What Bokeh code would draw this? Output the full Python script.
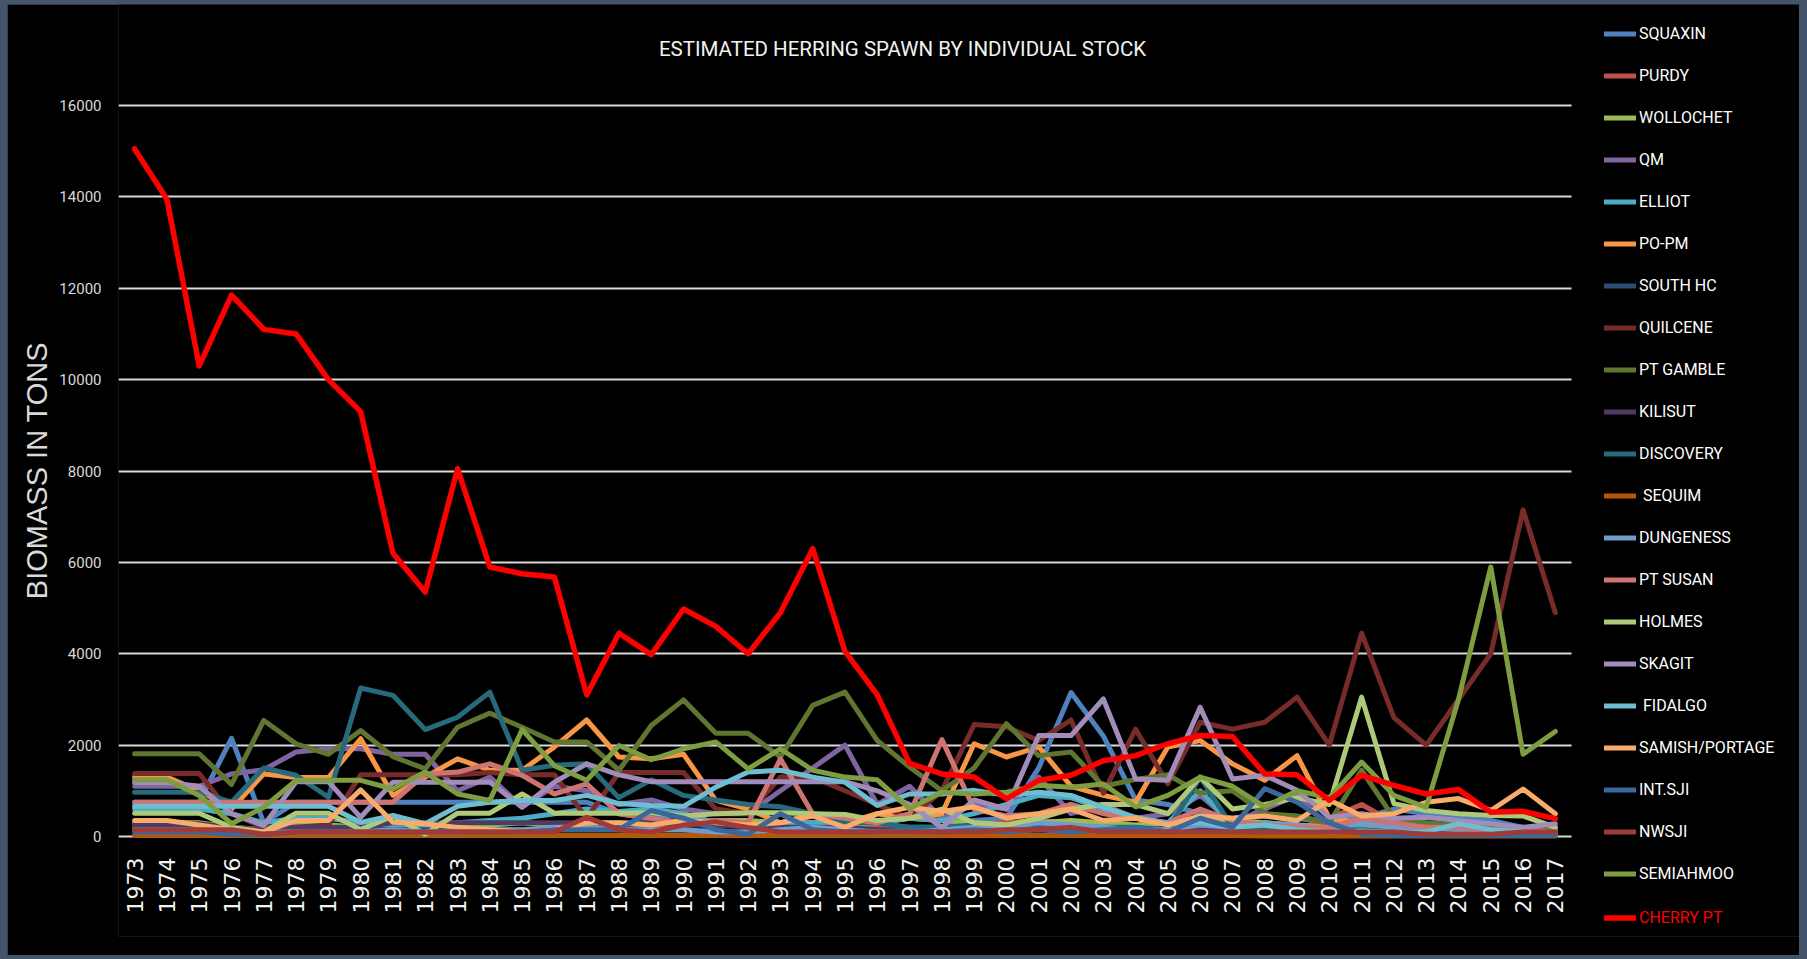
import math
from bokeh.plotting import figure
from bokeh.models import Range1d, FixedTicker, Legend, LegendItem, Label, ColumnDataSource
from bokeh.core.properties import value
from bokeh.embed import file_html
from bokeh.resources import INLINE

years = ["1973", "1974", "1975", "1976", "1977", "1978", "1979", "1980", "1981",
         "1982", "1983", "1984", "1985", "1986", "1987", "1988", "1989", "1990",
         "1991", "1992", "1993", "1994", "1995", "1996", "1997", "1998", "1999",
         "2000", "2001", "2002", "2003", "2004", "2005", "2006", "2007", "2008",
         "2009", "2010", "2011", "2012", "2013", "2014", "2015", "2016", "2017"]

y_ticks = [0, 2000, 4000, 6000, 8000, 10000, 12000, 14000, 16000]

squaxin = [750, 750, 750, 2150, 300, 750, 750, 750, 750, 750,
           750, 750, 750, 750, 750, 500, 400, 500, 300, 200,
           200, 200, 300, 250, 200, 200, 350, 400, 1500, 3150,
           2200, 800, 700, 500, 400, 500, 400, 300, 400, 600,
           500, 400, 350, 200, 150]
purdy = [200, 200, 200, 150, 100, 150, 150, 200, 250, 300,
         300, 300, 300, 250, 300, 250, 200, 250, 300, 250,
         250, 300, 200, 200, 150, 200, 250, 300, 350, 300,
         250, 200, 300, 250, 200, 200, 150, 400, 700, 300,
         250, 200, 150, 100, 100]
wollochet = [300, 300, 300, 200, 150, 250, 250, 200, 300, 200,
             200, 250, 300, 250, 250, 300, 300, 250, 350, 350,
             300, 300, 250, 300, 400, 350, 300, 250, 300, 350,
             300, 250, 300, 400, 350, 300, 250, 200, 250, 200,
             150, 150, 100, 100, 80]
qm = [1100, 1100, 1100, 1370, 1460, 1850, 1920, 1920, 1800, 1800,
      1000, 1300, 650, 1100, 1000, 700, 800, 600, 500, 500,
      1000, 1500, 2000, 700, 1100, 400, 700, 600, 1300, 500,
      700, 400, 500, 900, 300, 600, 900, 200, 200, 150,
      100, 100, 100, 50, 50]
elliot = [600, 600, 600, 500, 300, 400, 400, 300, 250, 200,
          300, 350, 400, 500, 600, 550, 600, 500, 300, 200,
          250, 300, 350, 300, 400, 350, 500, 700, 900, 850,
          600, 400, 300, 1000, 250, 250, 200, 150, 200, 150,
          150, 300, 200, 150, 100]
po_pm = [1300, 1300, 1000, 600, 1370, 1290, 1290, 2140, 900, 1300,
         1700, 1450, 1450, 1960, 2550, 1740, 1700, 1800, 790, 600,
         300, 500, 300, 500, 400, 500, 2030, 1740, 1960, 1100,
         900, 750, 1960, 2100, 1590, 1230, 1770, 400, 300, 200,
         150, 100, 100, 50, 50]
south_hc = [250, 250, 250, 100, 100, 150, 150, 150, 150, 150,
            150, 150, 150, 150, 200, 200, 150, 150, 100, 100,
            150, 100, 100, 150, 100, 100, 150, 150, 200, 150,
            150, 150, 100, 200, 150, 150, 100, 100, 100, 100,
            50, 50, 50, 50, 50]
quilcene = [1380, 1380, 1380, 500, 200, 200, 250, 1350, 1350, 1350,
            1350, 1400, 1350, 1350, 400, 1400, 1400, 1400, 600, 500,
            1300, 1300, 1000, 700, 400, 1000, 2450, 2400, 2100, 2550,
            950, 2350, 1150, 2500, 2350, 2500, 3050, 2000, 4450, 2600,
            2000, 3000, 4000, 7150, 4900]
pt_gamble = [1810, 1810, 1810, 1140, 2540, 2030, 1800, 2320, 1750, 1480,
             2390, 2700, 2390, 2070, 2070, 1450, 2430, 2990, 2260, 2260,
             1740, 2870, 3160, 2100, 1520, 1000, 1500, 2470, 1770, 1850,
             1100, 1250, 1350, 950, 1000, 500, 450, 300, 1450, 400,
             300, 250, 250, 200, 150]
kilisut = [280, 280, 280, 200, 150, 200, 200, 200, 300, 300,
           300, 300, 300, 300, 300, 300, 300, 250, 250, 200,
           200, 200, 200, 150, 150, 200, 200, 200, 200, 200,
           150, 150, 150, 200, 150, 150, 100, 100, 100, 100,
           100, 100, 100, 100, 100]
discovery = [970, 970, 970, 750, 1500, 1340, 860, 3250, 3090, 2340,
             2610, 3160, 1450, 1560, 1590, 850, 1240, 900, 800, 700,
             650, 500, 300, 300, 200, 200, 250, 200, 250, 200,
             200, 200, 150, 1300, 200, 200, 150, 150, 150, 100,
             100, 100, 100, 100, 100]
sequim = [30, 30, 30, 30, 30, 30, 30, 30, 30, 30,
          30, 30, 30, 30, 30, 30, 30, 30, 30, 30,
          30, 30, 30, 30, 30, 20, 20, 20, 20, 20,
          20, 20, 20, 20, 20, 10, 10, 10, 10, 10,
          10, 10, 10, 10, 10]
dungeness = [150, 150, 150, 100, 100, 100, 100, 100, 150, 100,
             100, 150, 150, 200, 200, 150, 150, 150, 100, 100,
             150, 200, 150, 100, 100, 150, 200, 200, 300, 250,
             200, 150, 150, 250, 200, 300, 250, 150, 300, 200,
             200, 150, 100, 100, 50]
pt_susan = [750, 750, 750, 750, 750, 750, 750, 750, 750, 1370,
            1410, 1590, 1340, 930, 1150, 500, 400, 300, 350, 300,
            1700, 500, 400, 300, 500, 2120, 600, 450, 500, 700,
            500, 400, 300, 600, 350, 250, 200, 200, 400, 300,
            200, 200, 150, 150, 100]
holmes = [510, 510, 510, 200, 100, 510, 510, 150, 450, 50,
          510, 510, 930, 510, 510, 510, 520, 450, 500, 520,
          520, 500, 480, 350, 400, 600, 300, 250, 400, 600,
          700, 700, 500, 1300, 600, 700, 850, 700, 3050, 720,
          570, 500, 460, 450, 200]
skagit = [1180, 1180, 1100, 500, 240, 1200, 1200, 420, 1190, 1190,
          1190, 1190, 640, 1190, 1590, 1350, 1200, 1200, 1200, 1200,
          1200, 1200, 1200, 1000, 700, 200, 800, 600, 2210, 2210,
          3010, 1260, 1230, 2830, 1260, 1340, 1010, 420, 500, 400,
          420, 350, 280, 200, 280]
fidalgo = [660, 660, 660, 660, 660, 660, 660, 310, 460, 280,
           660, 750, 790, 790, 900, 720, 680, 660, 1080, 1410,
           1450, 1300, 1190, 680, 930, 930, 1010, 900, 970, 900,
           640, 420, 280, 310, 200, 250, 150, 100, 120, 100,
           100, 280, 150, 100, 50]
samish_portage = [350, 350, 250, 150, 100, 350, 350, 1020, 310, 280,
                  200, 150, 100, 150, 300, 300, 250, 350, 300, 250,
                  300, 450, 200, 500, 640, 550, 650, 400, 500, 600,
                  350, 400, 250, 450, 400, 450, 350, 800, 450, 500,
                  750, 830, 570, 1040, 500]
int_sji = [100, 100, 100, 50, 50, 100, 100, 100, 100, 100,
           100, 100, 100, 150, 150, 150, 570, 400, 150, 50,
           500, 150, 100, 100, 150, 100, 150, 100, 150, 100,
           150, 200, 100, 400, 200, 1050, 750, 300, 50, 20,
           20, 20, 20, 20, 20]
nwsji = [150, 150, 150, 150, 50, 100, 100, 100, 100, 100,
         100, 100, 100, 100, 420, 150, 100, 250, 320, 200,
         100, 100, 100, 100, 100, 100, 100, 150, 150, 200,
         100, 100, 100, 100, 100, 100, 100, 100, 100, 100,
         50, 50, 50, 100, 100]
semiahmoo = [1240, 1240, 900, 280, 640, 1230, 1230, 1230, 1040, 1410,
             930, 790, 2340, 1550, 1230, 1990, 1680, 1920, 2070, 1480,
             1920, 1450, 1300, 1240, 610, 970, 930, 970, 1120, 1080,
             1150, 650, 900, 1300, 1100, 650, 1000, 850, 1630, 900,
             640, 3000, 5900, 1800, 2300]
cherry_pt = [15050, 13950, 10300, 11850, 11100, 11000, 10000, 9300, 6200, 5350,
             8050, 5900, 5750, 5680, 3100, 4450, 3980, 4980, 4600, 4000,
             4900, 6300, 4050, 3100, 1600, 1370, 1300, 825, 1230, 1340,
             1660, 1770, 2030, 2210, 2190, 1370, 1350, 790, 1340, 1120,
             930, 1030, 530, 550, 390]

series_names = ["SQUAXIN", "PURDY", "WOLLOCHET", "QM", "ELLIOT", "PO-PM",
                "SOUTH HC", "QUILCENE", "PT GAMBLE", "KILISUT", "DISCOVERY",
                " SEQUIM", "DUNGENESS", "PT SUSAN", "HOLMES", "SKAGIT",
                " FIDALGO", "SAMISH/PORTAGE", "INT.SJI", "NWSJI", "SEMIAHMOO",
                "CHERRY PT"]
series_values = [squaxin, purdy, wollochet, qm, elliot, po_pm, south_hc,
                 quilcene, pt_gamble, kilisut, discovery, sequim, dungeness,
                 pt_susan, holmes, skagit, fidalgo, samish_portage, int_sji,
                 nwsji, semiahmoo, cherry_pt]
series_colors = ["#4F81BD", "#C0504D", "#9BBB59", "#8064A2", "#4BACC6",
                 "#F79646", "#2C4D75", "#772C2A", "#5F7530", "#4D3B62",
                 "#276A7C", "#B65708", "#729ACA", "#CD7371", "#AFC97A",
                 "#A18CBA", "#6FBDD1", "#F9AB6B", "#3A679C", "#9E3B38",
                 "#7E9D40", "#FF0000"]

FONT_N = "Roboto"

# ---- layout geometry (figure placed at screen 7,4) ----
FIG_W, FIG_H = 1792, 951
LEFT = 111
FRAME_TOP_PX, FRAME_BOT_PX = 0, 932
PX_PER_YEAR = 1453 / 45.0
PX_PER_UNIT = 731 / 16000.0
ZERO_PX = 832
x_start = 1972.5
x_end = x_start + (FIG_W - LEFT) / PX_PER_YEAR
y_top = (ZERO_PX - FRAME_TOP_PX) / PX_PER_UNIT
y_bot = -(FRAME_BOT_PX - ZERO_PX) / PX_PER_UNIT

x_vals = [int(y) for y in years]

p = figure(width=FIG_W, height=FIG_H, title=None,
           x_range=Range1d(x_start, x_end), y_range=Range1d(y_bot, y_top),
           x_axis_type=None,
           output_backend="svg", toolbar_location=None,
           min_border_left=LEFT, min_border_right=0,
           min_border_top=0, min_border_bottom=FIG_H - FRAME_BOT_PX,
           background_fill_color="black", border_fill_color="black",
           outline_line_color=None)

p.yaxis.ticker = FixedTicker(ticks=y_ticks)
p.yaxis.axis_line_color = None
p.yaxis.major_tick_line_color = None
p.yaxis.minor_tick_line_color = None
p.yaxis.major_tick_out = 0
p.yaxis.major_tick_in = 0
p.yaxis.major_label_standoff = 17
p.yaxis.major_label_text_font = FONT_N
p.yaxis.major_label_text_font_size = "15px"
p.yaxis.major_label_text_color = "#d9d9d9"
p.yaxis.axis_label = "BIOMASS IN TONS"
p.yaxis.axis_label_text_font = "Liberation Sans"
p.yaxis.axis_label_text_font_size = "29px"
p.yaxis.axis_label_text_font_style = "normal"
p.yaxis.axis_label_text_color = "#d9d9d9"
p.yaxis.axis_label_standoff = 3

p.ygrid.grid_line_color = "#d9d9d9"
p.ygrid.grid_line_width = 2
p.ygrid.cross_bounds = (x_start, x_start + 45)

renderers = []
for name, vals, col in zip(series_names, series_values, series_colors):
    lw = 5.5 if name == "CHERRY PT" else 5
    renderers.append(p.line(x=x_vals, y=vals, line_color=col, line_width=lw,
                            line_join="round", line_cap="round"))

# category labels below the zero line (rotated, reading upward)
label_y = -(857 - 836) / PX_PER_UNIT
lab_src = ColumnDataSource(dict(x=x_vals, y=[label_y] * len(years), text=years))
p.text(x="x", y="y", text="text", source=lab_src, angle=math.pi / 2,
       text_align="right", text_baseline="middle",
       text_font=value("DejaVu Sans"), text_font_size=value("22px"),
       text_color="#f2f2f2")

title = Label(x=x_start + (902 - 118) / PX_PER_YEAR, y=(836 - 48) / PX_PER_UNIT,
              text="ESTIMATED HERRING SPAWN BY INDIVIDUAL STOCK",
              text_align="center", text_baseline="middle",
              text_font=FONT_N, text_font_size="20.5px", text_color="#f2f2f2")
p.add_layout(title)

items_main = [LegendItem(label=n, renderers=[r]) for n, r in zip(series_names[:-1], renderers[:-1])]
items_red = [LegendItem(label=series_names[-1], renderers=[renderers[-1]])]

common = dict(glyph_width=32, glyph_height=25, label_height=25, spacing=17,
              padding=0, margin=0, label_standoff=3, border_line_color=None,
              background_fill_alpha=0, label_text_font=FONT_N,
              label_text_font_size="16px")

frame_bottom_screen = 4 + FRAME_BOT_PX
leg1 = Legend(items=items_main, location=(1486, frame_bottom_screen - 886),
              label_text_color="#ffffff", **common)
leg2 = Legend(items=items_red, location=(1486, frame_bottom_screen - 930),
              label_text_color="#ff0000", **common)
p.add_layout(leg1)
p.add_layout(leg2)

html = file_html(p, INLINE, title="Estimated herring spawn")
css = ("<style>html, body {background-color:#44546a !important;} "
       "body {padding: 4px 0 0 7px !important; box-sizing: border-box;}</style>")
html = html.replace("</head>", css + "</head>", 1)
open("out.html", "w").write(html)
